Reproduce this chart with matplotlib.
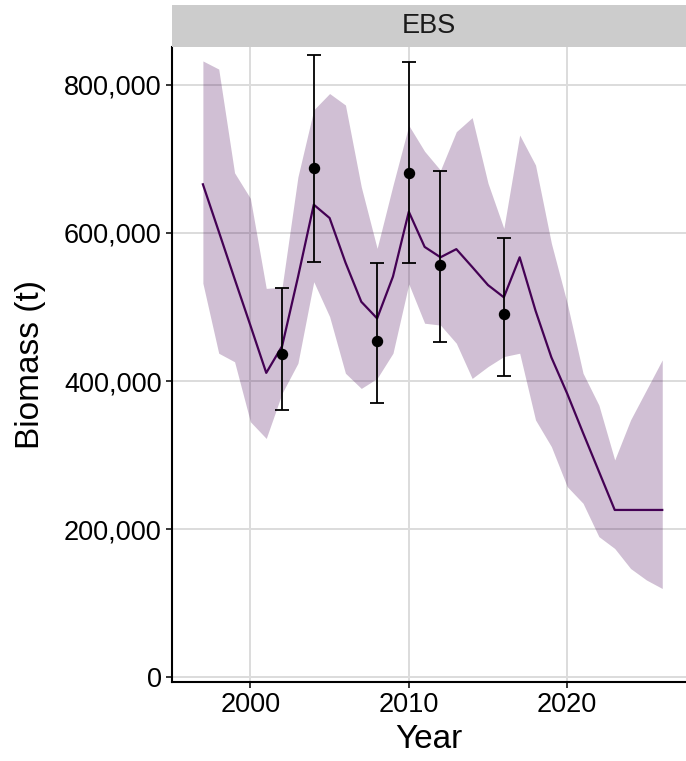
import matplotlib
matplotlib.use("Agg")
import matplotlib.pyplot as plt
from matplotlib.ticker import FuncFormatter
from matplotlib.patches import Rectangle

plt.rcParams['font.family'] = ['Liberation Sans', 'DejaVu Sans']

# model estimate with 95% interval
years = list(range(1997, 2027))
pred = [665500, 602000, 538000, 475000, 411000, 447000, 540000, 638000, 620000, 560000,
        507000, 484500, 541000, 628500, 581000, 567000, 578000, 554000, 529500, 513000,
        567000, 495000, 432000, 383000, 330000, 278000, 226000, 226000, 226000, 226000]
upper = [832000, 821000, 681000, 646500, 525000, 526500, 675500, 766000, 788000, 772500,
         662000, 579000, 664000, 745000, 710000, 684500, 736500, 755500, 667000, 606000,
         732000, 691500, 586000, 505000, 410500, 367500, 293500, 347500, 388000, 428500]
lower = [532000, 437500, 426000, 345000, 322500, 383500, 424000, 534000, 487000, 410500,
         390000, 403500, 437500, 531000, 478000, 475500, 451000, 403500, 419500, 433000,
         437500, 347500, 311500, 257500, 235000, 190000, 174000, 147000, 131500, 120000]

# survey observations with error bars
obs_years = [2002, 2004, 2008, 2010, 2012, 2016]
obs = [436000, 687000, 454000, 681000, 556500, 491000]
obs_lo = [361000, 561000, 370000, 559000, 453000, 407000]
obs_hi = [525000, 840000, 559000, 831000, 684000, 593500]

purple = '#440154'

fig = plt.figure(figsize=(6.86, 7.61), dpi=100)
ax = fig.add_axes([172 / 686, 1 - 682 / 761, 514 / 686, 635 / 761])

ax.fill_between(years, lower, upper, color=purple, alpha=0.25, linewidth=0, zorder=2)
ax.plot(years, pred, color=purple, lw=1.6, zorder=3)
yerr = [[o - l for o, l in zip(obs, obs_lo)], [h - o for o, h in zip(obs, obs_hi)]]
ax.errorbar(obs_years, obs, yerr=yerr, fmt='o', color='black', ms=7.2,
            elinewidth=1.3, capsize=5, capthick=1.3, zorder=4)

ax.set_xlim(1995.05, 2027.5)
ax.set_ylim(-6200, 850800)
ax.set_xticks([2000, 2010, 2020])
ax.set_yticks([0, 200000, 400000, 600000, 800000])
ax.yaxis.set_major_formatter(FuncFormatter(lambda v, p: f'{int(v):,}'))

ax.grid(True, color='#dcdcdc', lw=1.4, zorder=0)
ax.set_axisbelow(True)
for side in ['top', 'right']:
    ax.spines[side].set_visible(False)
for side in ['left', 'bottom']:
    ax.spines[side].set_linewidth(1.5)
    ax.spines[side].set_color('black')
ax.tick_params(labelsize=19.5, length=4.5, width=1.1, pad=3, colors='black')

ax.set_xlabel('Year', fontsize=24, labelpad=4)
ax.set_ylabel('Biomass (t)', fontsize=24, labelpad=13)

# facet strip
strip = fig.add_axes([172 / 686, 1 - 47 / 761, 514 / 686, 42 / 761])
strip.add_patch(Rectangle((0, 0), 1, 1, transform=strip.transAxes, color='#cccccc'))
strip.text(0.5, 0.5, 'EBS', ha='center', va='center', fontsize=19.5, color='#1a1a1a')
strip.set_axis_off()

fig.savefig('out.png', dpi=100)
